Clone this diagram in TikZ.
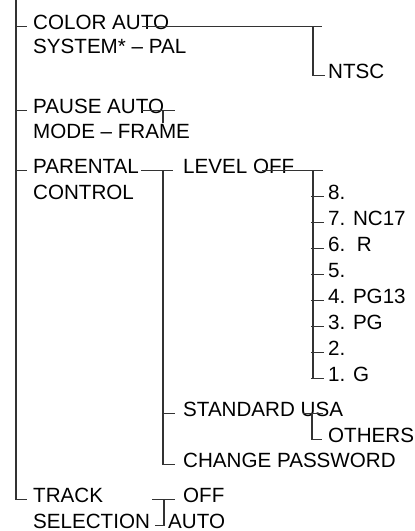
\documentclass[tikz,border=0pt]{standalone}
\usepackage{fontspec}
\setmainfont{Liberation Sans}
\usetikzlibrary{calc}

\tikzset{
	item/.style={anchor=base west, inner sep=0pt, font=\fontsize{20.6}{24}\selectfont},
	wire/.style={line width=1.2pt, color=black!80},
}

\begin{document}
\begin{tikzpicture}[x=1pt, y=-1pt]
		%%%%% START %%%%%
		\useasboundingbox (0,0) rectangle (415,531);
		
		\node[item] (color) at (33,29) {COLOR AUTO};
		\node[item] (system) at (33,53) {SYSTEM* – PAL};
		\node[item] (ntsc) at (328,78) {NTSC};
		
		\node[item] (pause) at (33,113) {PAUSE AUTO};
		\node[item] (mode) at (33,138) {MODE – FRAME};
		
		\node[item] (parental) at (33,173) {PARENTAL};
		\node[item] (control) at (33,199) {CONTROL};
		\node[item] (level) at (183,173) {LEVEL OFF};
		\foreach \k/\t in {8/{8.},7/{7. NC17},6/{6.\ \ R},5/{5.},4/{4. PG13},3/{3. PG},2/{2.},1/{1. G}}
			\node[item] (lv\k) at (328,{199+26*(8-\k)}) {\t};
		\node[item] (standard) at (183,416) {STANDARD USA};
		\node[item] (others) at (328,442) {OTHERS};
		\node[item] (change) at (183,467) {CHANGE PASSWORD};
		
		\node[item] (track) at (33,502) {TRACK};
		\node[item] (selection) at (33,528) {SELECTION};
		\node[item] (off) at (183,502) {OFF};
		\node[item] (auto) at (168,528) {AUTO};
		
		% main spine
		\coordinate (spine) at (16,0);
		\draw[wire] (spine) |- ([xshift=-6pt]track.mid west);
		\foreach \n in {color,pause,parental}
			\draw[wire] (16,0 |- \n.mid west) -- ([xshift=-6pt]\n.mid west);
		
		% color system
		\draw[wire] (142,0 |- color.mid west) -- (322,0 |- color.mid west);
		\draw[wire] (313,0 |- color.mid west) |- ([xshift=-3pt]ntsc.mid west);
		
		% pause mode
		\draw[wire] (142,0 |- pause.mid west) -- (175,0 |- pause.mid west);
		\draw[wire] (163,0 |- pause.mid west) -- (163,0 |- mode.north west);
		
		% parental control
		\draw[wire] ([xshift=2pt]parental.mid east) -- ([xshift=-10pt]level.mid west);
		\draw[wire] (163,0 |- parental.mid west) |- ([xshift=-8pt]change.mid west);
		\draw[wire] (163,0 |- standard.mid west) -- ([xshift=-8pt]standard.mid west);
		
		% level
		\draw[wire] (262,0 |- level.mid west) -- (323,0 |- level.mid west);
		\draw[wire] (313,0 |- level.mid west) -- (313,0 |- lv1.mid west);
		\foreach \k in {1,...,8}
			\draw[wire] (311,0 |- lv\k.mid west) -- ([xshift=-4pt]lv\k.mid west);
		
		% standard
		\draw[wire] (303,0 |- standard.mid west) -- (323,0 |- standard.mid west);
		\draw[wire] (312,0 |- standard.mid west) |- ([xshift=-6pt]others.mid west);
		
		% track selection
		\draw[wire] (152,0 |- track.mid west) -- ([xshift=-8pt]off.mid west);
		\draw[wire] (164,0 |- track.mid west) |- (155,0 |- auto.mid west);
		
		%%%%% END %%%%%
	\end{tikzpicture}
\end{document}
